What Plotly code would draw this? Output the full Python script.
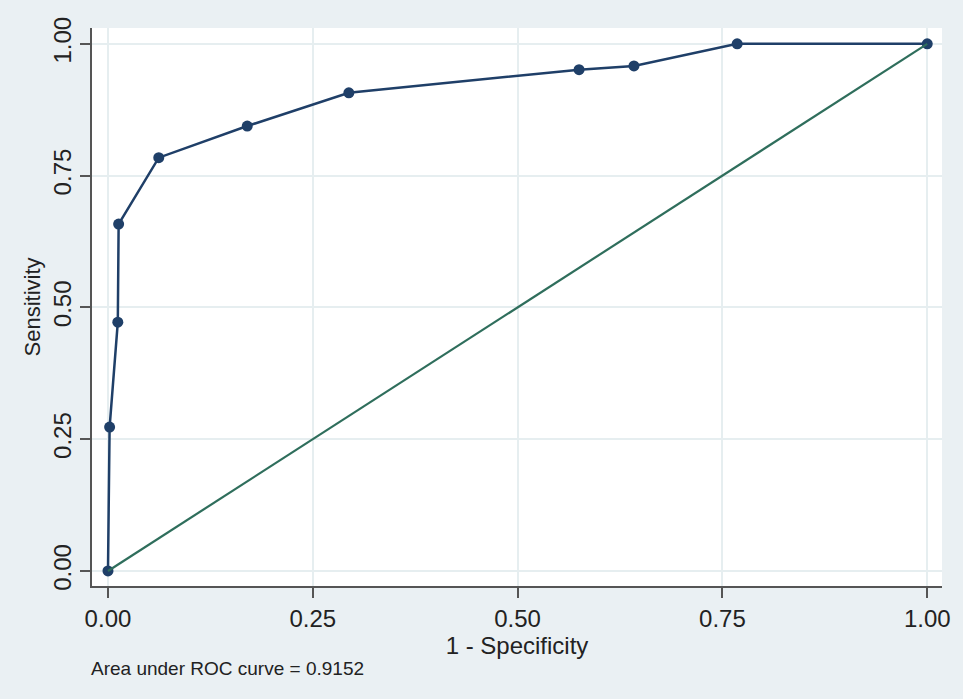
import plotly.graph_objects as go

fpr = [0.0, 0.002, 0.012, 0.013, 0.062, 0.170, 0.294, 0.575, 0.642, 0.768, 1.0]
tpr = [0.0, 0.273, 0.472, 0.658, 0.784, 0.844, 0.907, 0.951, 0.958, 1.0, 1.0]
ref_x = [0.0, 1.0]
ref_y = [0.0, 1.0]
tick_vals = [0, 0.25, 0.5, 0.75, 1.0]
tick_text = ["0.00", "0.25", "0.50", "0.75", "1.00"]
auc_note = "Area under ROC curve = 0.9152"

navy = "#1f3f68"
green = "#2f6e5c"
bg = "#eaf0f3"
grid = "#e6eef0"
font = "Liberation Sans, Arial, sans-serif"

fig = go.Figure()
fig.add_trace(go.Scatter(x=fpr, y=tpr, mode="lines+markers",
                         line=dict(color=navy, width=2.5),
                         marker=dict(color=navy, size=11), showlegend=False))
fig.add_trace(go.Scatter(x=ref_x, y=ref_y, mode="lines",
                         line=dict(color=green, width=2.2), showlegend=False))

fig.update_layout(
    width=963, height=699,
    margin=dict(l=92, r=21, t=28, b=113),
    paper_bgcolor=bg, plot_bgcolor="white",
    font=dict(family=font, color="#222"),
    xaxis=dict(range=[-0.0195, 1.018], tickvals=tick_vals, ticktext=tick_text,
               showgrid=True, gridcolor=grid, gridwidth=1.5, zeroline=False,
               showline=True, linecolor="#555", linewidth=1.5,
               ticks="outside", ticklen=10, tickcolor="#555", tickwidth=1.5,
               tickfont=dict(size=24, family=font, color="#222"),
               title=dict(text="1 - Specificity", font=dict(size=24, family=font, color="#222"),
                          standoff=0)),
    yaxis=dict(range=[-0.0285, 1.030], tickvals=tick_vals, ticktext=tick_text,
               showgrid=True, gridcolor=grid, gridwidth=1.5, zeroline=False,
               showline=True, linecolor="#555", linewidth=1.5,
               ticks="outside", ticklen=10, tickcolor="#555", tickwidth=1.5,
               tickangle=-90,
               tickfont=dict(size=24, family=font, color="#222"),
               title=dict(text="Sensitivity", font=dict(size=22, family=font, color="#222"),
                          standoff=2)),
    annotations=[dict(text=auc_note, xref="paper", yref="paper", x=-0.0035, y=-0.147,
                      xanchor="left", yanchor="middle", showarrow=False,
                      font=dict(size=19, family=font, color="#222"))],
)
fig.write_html("out.html", config={"displayModeBar": False},
               post_script="document.body.style.margin='0';document.body.style.background='#eaf0f3';")
